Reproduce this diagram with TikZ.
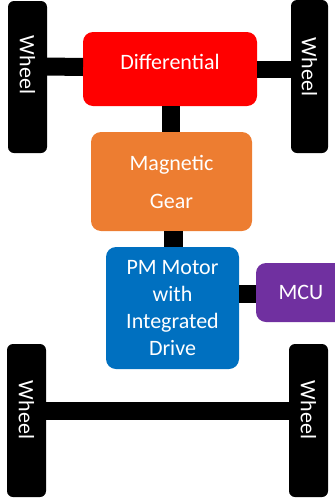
\documentclass[tikz,border=0pt]{standalone}
\usepackage{fontspec}
\setmainfont{Carlito}
\definecolor{diffred}{RGB}{255,0,0}
\definecolor{gearorange}{RGB}{237,125,49}
\definecolor{motorblue}{RGB}{0,112,192}
\definecolor{mcupurple}{RGB}{112,48,160}
\begin{document}
\begin{tikzpicture}[x=1pt,y=1pt,
  box/.style={rounded corners=10pt, inner sep=0pt, outer sep=0pt, anchor=north west,
    text=white, font=\fontsize{22}{27.3}\selectfont, align=center},
  lbl/.style={text=white, font=\fontsize{22}{27}\selectfont},
  wheel/.style={rounded corners=6pt, fill=black, inner sep=0pt, outer sep=0pt, anchor=north west},
  wtext/.style={text=white, font=\fontsize{22}{26}\selectfont, rotate=-90},
  shaft/.style={line width=18pt, black}
]
\useasboundingbox (0,0) rectangle (335,-504);

% wheels
\node[wheel, minimum width=39pt, minimum height=152pt] (tl) at (8,-1) {};
\node[wheel, minimum width=37pt, minimum height=153pt] (tr) at (291,0) {};
\node[wheel, minimum width=39pt, minimum height=153pt] (bl) at (7,-344) {};
\node[wheel, minimum width=39pt, minimum height=153pt] (br) at (289,-344) {};
\node[wtext] (tlT) at (27.5,-65) {Wheel};
\node[wtext] (trT) at (309.5,-67) {Wheel};
\node[wtext] (blT) at (26.5,-410) {Wheel};
\node[wtext] (brT) at (308.5,-410) {Wheel};

% boxes
\node[box, fill=diffred, minimum width=174pt, minimum height=74pt,
  label={[lbl,yshift=7pt]center:Differential}] (diff) at (83,-32) {};
\node[box, fill=gearorange, minimum width=161pt, minimum height=99pt,
  font=\fontsize{22}{38}\selectfont] (gear) at (91,-132) {Magnetic\\Gear};
\node[box, fill=motorblue, minimum width=133pt, minimum height=122pt]
  (motor) at (106,-247) {PM Motor\\with\\Integrated\\Drive};
\node[box, fill=mcupurple, minimum width=90pt, minimum height=59pt]
  (mcu) at (256,-263) {MCU};

% shafts
\draw[shaft] ([yshift=10.5pt]tl.east) -- ([yshift=2pt]diff.west);
\draw[shaft, line width=17pt] ([yshift=7pt]tr.west) -- ([yshift=-0.5pt]diff.east);
\draw[shaft] ([xshift=1pt]diff.south) -- ([xshift=-0.5pt]gear.north);
\draw[shaft, line width=19pt] ([xshift=1.5pt]gear.south) -- ([xshift=0.5pt]motor.north);
\draw[shaft] ([yshift=14pt]motor.east) -- ([yshift=-1.5pt]mcu.west);
\draw[shaft] ([yshift=9.5pt]bl.east) -- ([yshift=9.5pt]br.west);
\end{tikzpicture}
\end{document}
